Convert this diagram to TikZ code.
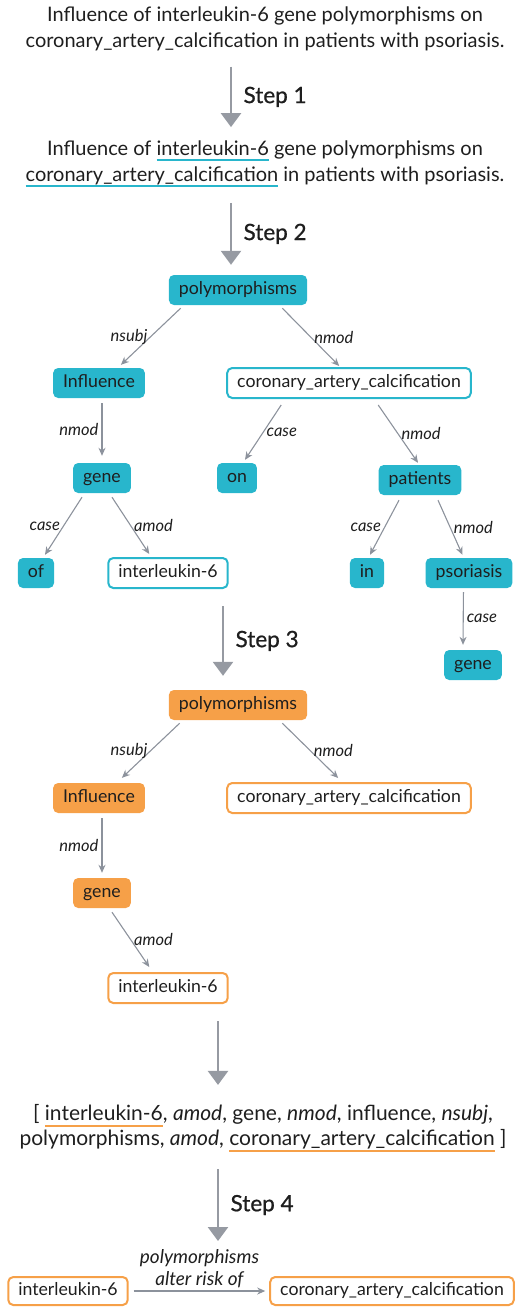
\documentclass[tikz,border=0pt]{standalone}
\usepackage{fontspec}
\setmainfont{Lato}
\newfontfamily\stepfont{Lato}[FakeBold=0.8]
\usetikzlibrary{arrows.meta}

\definecolor{depcyan}{RGB}{40,182,204}
\definecolor{deporange}{RGB}{246,160,72}
\definecolor{arrowgray}{RGB}{140,146,156}
\definecolor{stepgray}{RGB}{150,154,162}
\definecolor{textdark}{RGB}{30,30,30}

% coloured underline under a picked word
\newsavebox{\hlbox}
\newcommand{\hlword}[2]{\sbox{\hlbox}{#2}\rlap{\color{#1}\rule[-6pt]{\wd\hlbox}{2pt}}\usebox{\hlbox}}

\tikzset{
  word/.style={rounded corners=5pt, minimum height=30pt, inner xsep=10pt, inner ysep=0pt,
    text height=13pt, text depth=4pt, font=\fontsize{17.7}{20}\selectfont, text=textdark},
  cyanword/.style={word, fill=depcyan},
  cyanpick/.style={word, draw=depcyan, line width=2pt, fill=white},
  orangeword/.style={word, fill=deporange},
  orangepick/.style={word, draw=deporange, line width=2pt, fill=white},
  dep/.style={draw=arrowgray, line width=1.1pt, -{Stealth[length=8pt,width=7pt]}},
  deplbl/.style={font=\fontsize{16.5}{22}\selectfont\itshape, text=textdark, inner sep=3pt},
  steparrow/.style={draw=stepgray, line width=2.5pt, -{Triangle[length=14pt,width=20pt]}},
  steplbl/.style={font=\stepfont\fontsize{22.5}{26}\selectfont, text=textdark, midway, right=8pt},
  sentence/.style={align=center, font=\fontsize{20}{26}\selectfont, text=textdark},
}

\begin{document}
\begin{tikzpicture}[x=1pt,y=-1pt]
  \useasboundingbox (0,0) rectangle (515,1307);

  % input sentence and entity tagging
  \node[sentence] (s1) at (265,29)
    {Influence of interleukin-6 gene polymorphisms on\\coronary\_artery\_calcification in patients with psoriasis.};
  \node[sentence] (s2) at (265,164)
    {Influence of \hlword{depcyan}{interleukin-6} gene polymorphisms on\\\hlword{depcyan}{coronary\_artery\_calcification} in patients with psoriasis.};

  % dependency tree
  \node[cyanword] (p1) at (238,290) {polymorphisms};
  \node[cyanword] (inf1) at (99,383) {Influence};
  \node[cyanpick] (cac1) at (349,383) {coronary\_artery\_calcification};
  \node[cyanword] (gene1) at (102,478) {gene};
  \node[cyanword] (on1) at (237,478) {on};
  \node[cyanword] (pat1) at (420,480) {patients};
  \node[cyanword] (of1) at (36,573) {of};
  \node[cyanpick] (il1) at (168,573) {interleukin-6};
  \node[cyanword] (in1) at (367,573) {in};
  \node[cyanword] (pso1) at (469,573) {psoriasis};
  \node[cyanword] (geneb1) at (473,665) {gene};

  % pruned tree
  \node[orangeword] (p2) at (238,705) {polymorphisms};
  \node[orangeword] (inf2) at (99,798) {Influence};
  \node[orangepick] (cac2) at (349,798) {coronary\_artery\_calcification};
  \node[orangeword] (gene2) at (102,893) {gene};
  \node[orangepick] (il2) at (168,988) {interleukin-6};

  % shortest path
  \node[sentence, font=\fontsize{21}{25}\selectfont] (path) at (263,1128)
    {[ \hlword{deporange}{interleukin-6}, \textit{amod}, gene, \textit{nmod}, influence, \textit{nsubj},\\polymorphisms, \textit{amod}, \hlword{deporange}{coronary\_artery\_calcification} ]};

  % relation
  \node[orangepick, minimum height=28pt] (il3) at (68,1291) {interleukin-6};
  \node[orangepick, minimum height=28pt] (cac3) at (392,1291) {coronary\_artery\_calcification};

  % steps
  \draw[steparrow] ([xshift=-34pt,yshift=-12pt]s1.south) -- node[steplbl]{Step 1} ([xshift=-34pt,yshift=10pt]s2.north);
  \draw[steparrow] ([xshift=-34pt,yshift=-12pt]s2.south) -- node[steplbl]{Step 2} ([xshift=-7pt,yshift=10pt]p1.north);
  \draw[steparrow] ([xshift=55pt,yshift=-17pt]il1.south) -- node[steplbl]{Step 3} ([xshift=-15pt,yshift=14pt]p2.north);
  \draw[steparrow] ([xshift=50pt,yshift=-17pt]il2.south) -- ([xshift=-45pt,yshift=16pt]path.north);
  \draw[steparrow] ([xshift=-45pt,yshift=-14pt]path.south) -- node[steplbl]{Step 4} ([xshift=150pt,yshift=35pt]il3.north);

  % tree 1 edges
  \draw[dep] ([xshift=12pt,yshift=-3pt]p1.south west) -- node[deplbl,left]{nsubj} ([xshift=68pt,yshift=3pt]inf1.north west);
  \draw[dep] ([xshift=-25pt,yshift=-3pt]p1.south east) -- node[deplbl,right]{nmod} ([xshift=113pt,yshift=1pt]cac1.north west);
  \draw[dep] ([xshift=3pt,yshift=-5pt]inf1.south) -- node[deplbl,left]{nmod} ([yshift=7pt]gene1.north);
  \draw[dep] ([xshift=55pt,yshift=-6pt]cac1.south west) -- node[deplbl,right]{case} ([xshift=8pt,yshift=3pt]on1.north);
  \draw[dep] ([xshift=152pt,yshift=-6pt]cac1.south west) -- node[deplbl,right]{nmod} ([xshift=-2pt,yshift=2pt]pat1.north);
  \draw[dep] ([xshift=9pt,yshift=-4pt]gene1.south west) -- node[deplbl,left]{case} ([xshift=9pt,yshift=3pt]of1.north);
  \draw[dep] ([xshift=10pt,yshift=-4pt]gene1.south) -- node[deplbl,right]{amod} ([xshift=42pt,yshift=3pt]il1.north west);
  \draw[dep] ([xshift=-21pt,yshift=-5pt]pat1.south) -- node[deplbl,left]{case} ([xshift=3pt,yshift=3pt]in1.north);
  \draw[dep] ([xshift=18pt,yshift=-5pt]pat1.south) -- node[deplbl,right]{nmod} ([xshift=37pt,yshift=3pt]pso1.north west);
  \draw[dep] ([xshift=38pt,yshift=-4pt]pso1.south west) -- node[deplbl,right]{case} ([xshift=-10pt,yshift=5pt]geneb1.north);

  % tree 2 edges
  \draw[dep] ([xshift=11pt,yshift=-3pt]p2.south west) -- node[deplbl,left]{nsubj} ([xshift=69pt,yshift=5pt]inf2.north west);
  \draw[dep] ([xshift=-25pt,yshift=-3pt]p2.south east) -- node[deplbl,right]{nmod} ([xshift=112pt,yshift=4pt]cac2.north west);
  \draw[dep] ([xshift=3pt,yshift=-5pt]inf2.south) -- node[deplbl,left]{nmod} ([yshift=5pt]gene2.north);
  \draw[dep] ([xshift=10pt,yshift=-4pt]gene2.south) -- node[deplbl,right]{amod} ([xshift=42pt,yshift=5pt]il2.north west);

  % relation edge
  \draw[dep] ([xshift=5pt]il3.east) -- node[deplbl,above,align=center,font=\fontsize{19}{22}\selectfont\itshape]{polymorphisms\\alter risk of} ([xshift=-4pt]cac3.west);
\end{tikzpicture}
\end{document}
